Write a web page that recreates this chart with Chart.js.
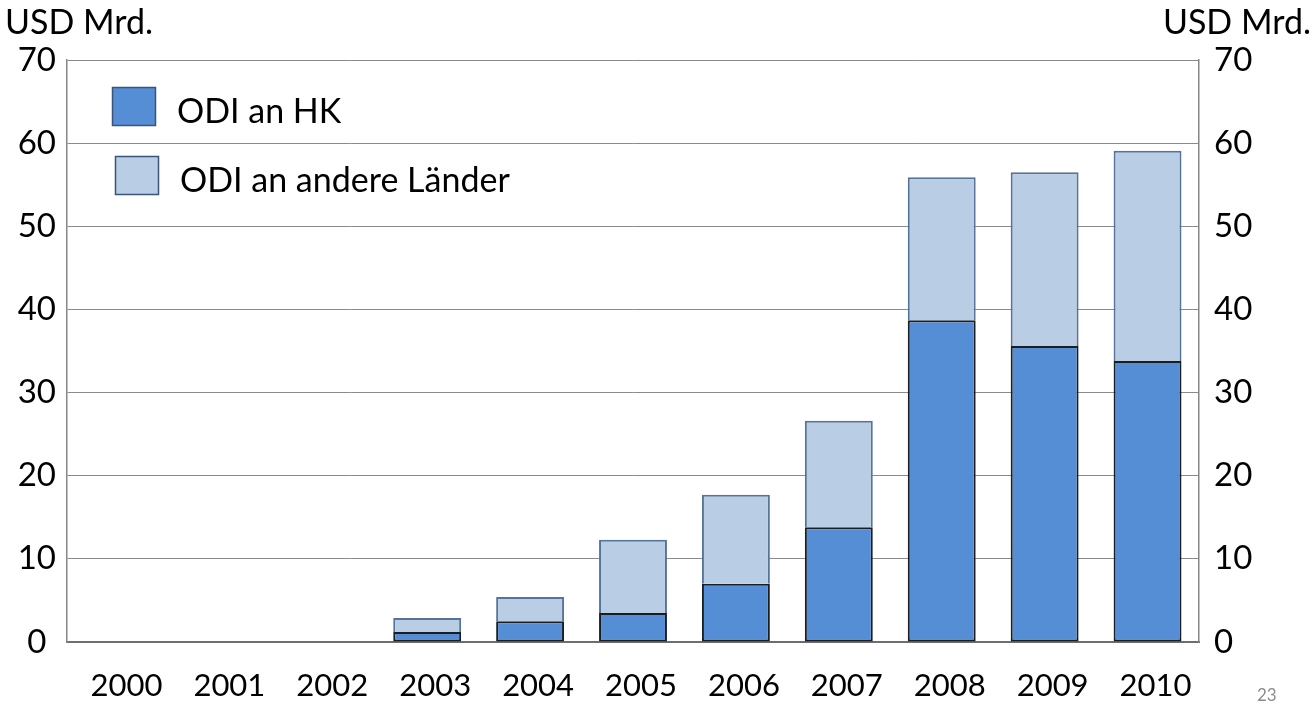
<!DOCTYPE html>
<html>
<head>
<meta charset="utf-8">
<script src="https://cdn.jsdelivr.net/npm/chart.js@4"></script>
<style>
  body { margin: 0; background: #fff; }
  #wrap { position: relative; width: 1314px; height: 704px; }
  #page { position: absolute; left: 1257px; top: 684px; font: 17px Lato, sans-serif; color: #8c8c8c; }
</style>
</head>
<body>
<div id="wrap">
  <canvas id="myChart"></canvas>
  <div id="page">23</div>
</div>
<script>
let years = ["2000", "2001", "2002", "2003", "2004", "2005", "2006", "2007", "2008", "2009", "2010"];
let odiHK = [0, 0, 0, 1.2, 2.5, 3.5, 7.0, 13.8, 38.7, 35.6, 33.8];
let odiOther = [0, 0, 0, 1.7, 2.9, 8.8, 10.7, 12.8, 17.2, 20.9, 25.3];
let seriesNames = ["ODI an HK", "ODI an andere Länder"];
let unitLabel = "USD Mrd.";

const fontFamily = "Lato, 'DejaVu Sans', sans-serif";

// titles above both axes
let unitTitles = {
  id: "unitTitles",
  afterDraw: (chart) => {
    let ctx = chart.ctx;
    ctx.save();
    ctx.fillStyle = "#000";
    ctx.font = "34px " + fontFamily;
    ctx.textBaseline = "middle";
    ctx.textAlign = "left";
    ctx.fillText(unitLabel, 5, 23);
    ctx.textAlign = "right";
    ctx.fillText(unitLabel, 1311, 23);
    ctx.restore();
  },
};

// legend inside the plot, top left
let innerLegend = {
  id: "innerLegend",
  afterDraw: (chart) => {
    let ctx = chart.ctx;
    let spots = [
      { bx: 112, by: 87, tx: 177, ty: 112 },
      { bx: 115, by: 156, tx: 180, ty: 181 },
    ];
    ctx.save();
    chart.data.datasets.forEach((ds, i) => {
      let s = spots[i];
      ctx.fillStyle = ds.backgroundColor;
      ctx.fillRect(s.bx, s.by, 43, 38);
      ctx.strokeStyle = "#3a5478";
      ctx.lineWidth = 1.5;
      ctx.strokeRect(s.bx + 0.5, s.by + 0.5, 43, 38);
      ctx.fillStyle = "#000";
      ctx.font = "34px " + fontFamily;
      ctx.textAlign = "left";
      ctx.textBaseline = "middle";
      ctx.fillText(ds.label, s.tx, s.ty);
    });
    ctx.restore();
  },
};

let ctx = document.getElementById("myChart").getContext("2d");
let chart = new Chart(ctx, {
  type: "bar",
  data: {
    labels: years,
    datasets: [
      {
        label: seriesNames[0],
        data: odiHK,
        backgroundColor: "#558ed5",
        borderColor: "#1a1d22",
        borderWidth: 2,
        borderSkipped: false,
        yAxisID: "y",
      },
      {
        label: seriesNames[1],
        data: odiOther,
        backgroundColor: "#b9cde5",
        borderColor: "#56739a",
        borderWidth: 2,
        yAxisID: "y",
      },
    ],
  },
  options: {
    responsive: true,
    maintainAspectRatio: false,
    animation: false,
    layout: { padding: { top: 60, left: 0, right: 0, bottom: 0 } },
    datasets: { bar: { barPercentage: 0.66, categoryPercentage: 1 } },
    plugins: {
      legend: { display: false },
      tooltip: { enabled: false },
    },
    scales: {
      x: {
        stacked: true,
        grid: { display: false, drawTicks: false },
        border: { display: true, color: "#6e6e6e", width: 2 },
        ticks: { color: "#000", font: { family: fontFamily, size: 31 }, padding: 25, maxRotation: 0, labelOffset: 8 },
        afterFit: (scale) => { scale.height = 62; },
      },
      y: {
        stacked: true,
        min: 0,
        max: 70,
        position: "left",
        grid: { color: "#8a8a8a", lineWidth: 1, drawTicks: false },
        border: { display: true, color: "#868686", width: 1.5 },
        ticks: { stepSize: 10, color: "#000", font: { family: fontFamily, size: 33 }, padding: 11, crossAlign: "center" },
        afterFit: (scale) => { scale.width = 67; },
      },
      y2: {
        min: 0,
        max: 70,
        position: "right",
        grid: { display: false, drawTicks: false },
        border: { display: true, color: "#868686", width: 1.5 },
        ticks: { stepSize: 10, color: "#000", font: { family: fontFamily, size: 33 }, padding: 15 },
        afterFit: (scale) => { scale.width = 115; },
      },
    },
  },
  plugins: [unitTitles, innerLegend],
});
</script>
</body>
</html>
